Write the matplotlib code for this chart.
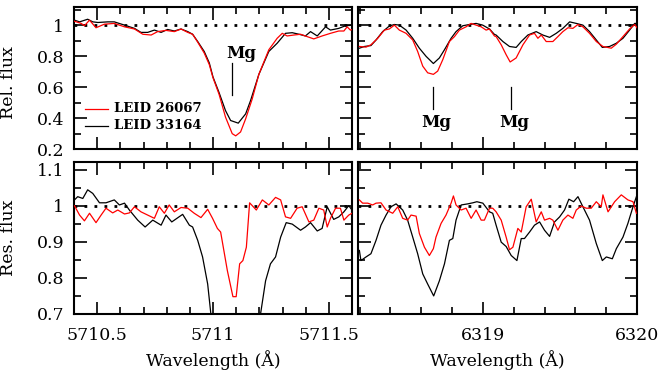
import matplotlib
matplotlib.use("Agg")
import matplotlib.pyplot as plt
from matplotlib.ticker import MultipleLocator, FuncFormatter

# ---------------- data ----------------
# Top-left: relative flux around 5711 A
tl_black_wl = [5710.402, 5710.424, 5710.459, 5710.481, 5710.503, 5710.546, 5710.574, 5710.618,
               5710.661, 5710.689, 5710.718, 5710.747, 5710.776, 5710.804, 5710.833, 5710.862,
               5710.891, 5710.912, 5710.934, 5710.962, 5710.984, 5711.000, 5711.026, 5711.054,
               5711.076, 5711.109, 5711.141, 5711.162, 5711.198, 5711.241, 5711.277, 5711.313,
               5711.342, 5711.371, 5711.399, 5711.421, 5711.450, 5711.486, 5711.507, 5711.543,
               5711.572, 5711.608]
tl_black_fl = [1.032, 1.021, 1.038, 1.021, 1.017, 1.021, 1.021, 1.000,
               0.979, 0.953, 0.953, 0.968, 0.953, 0.972, 0.962, 0.975,
               0.958, 0.941, 0.894, 0.830, 0.756, 0.665, 0.565, 0.448,
               0.384, 0.367, 0.427, 0.512, 0.682, 0.830, 0.883, 0.947,
               0.951, 0.941, 0.930, 0.958, 0.930, 0.989, 0.968, 0.979,
               0.996, 1.000]
tl_red_wl = [5710.402, 5710.431, 5710.445, 5710.467, 5710.495, 5710.531, 5710.574, 5710.618,
             5710.661, 5710.697, 5710.733, 5710.761, 5710.797, 5710.833, 5710.862, 5710.891,
             5710.912, 5710.934, 5710.962, 5710.984, 5711.000, 5711.026, 5711.054, 5711.083,
             5711.098, 5711.119, 5711.141, 5711.169, 5711.198, 5711.241, 5711.277, 5711.299,
             5711.320, 5711.349, 5711.378, 5711.406, 5711.435, 5711.471, 5711.507, 5711.543,
             5711.565, 5711.579, 5711.593, 5711.608]
tl_red_fl = [1.025, 1.011, 0.996, 1.032, 0.983, 1.006, 1.011, 0.989,
             0.975, 0.941, 0.936, 0.958, 0.966, 0.958, 0.975, 0.953,
             0.941, 0.890, 0.820, 0.745, 0.660, 0.554, 0.406, 0.299,
             0.285, 0.310, 0.395, 0.522, 0.682, 0.841, 0.915, 0.947,
             0.930, 0.936, 0.941, 0.926, 0.911, 0.930, 0.947, 0.962,
             0.962, 0.989, 0.968, 0.975]

# Top-right: relative flux around 6319 A
tr_black_wl = [6318.199, 6318.231, 6318.274, 6318.307, 6318.350, 6318.393, 6318.426, 6318.458,
               6318.502, 6318.545, 6318.588, 6318.632, 6318.679, 6318.718, 6318.751, 6318.794,
               6318.826, 6318.870, 6318.913, 6318.956, 6318.999, 6319.043, 6319.075, 6319.086,
               6319.130, 6319.173, 6319.216, 6319.249, 6319.292, 6319.346, 6319.389, 6319.433,
               6319.476, 6319.519, 6319.563, 6319.606, 6319.649, 6319.692, 6319.736, 6319.775,
               6319.822, 6319.866, 6319.909, 6319.952, 6319.985, 6320.006]
tr_black_fl = [0.851, 0.862, 0.868, 0.904, 0.958, 0.994, 1.004, 1.000,
               0.968, 0.915, 0.851, 0.798, 0.752, 0.788, 0.841, 0.915,
               0.958, 0.996, 1.004, 1.011, 1.000, 0.975, 0.940, 0.936,
               0.894, 0.862, 0.856, 0.894, 0.936, 0.958, 0.936, 0.921,
               0.947, 0.979, 1.021, 1.011, 1.000, 0.958, 0.904, 0.856,
               0.862, 0.883, 0.915, 0.968, 1.011, 1.011]
tr_red_wl = [6318.199, 6318.242, 6318.274, 6318.318, 6318.361, 6318.393, 6318.426, 6318.458,
             6318.502, 6318.545, 6318.577, 6318.610, 6318.642, 6318.679, 6318.707, 6318.740,
             6318.783, 6318.816, 6318.848, 6318.891, 6318.924, 6318.956, 6318.989, 6319.021,
             6319.043, 6319.075, 6319.086, 6319.119, 6319.151, 6319.177, 6319.216, 6319.260,
             6319.303, 6319.335, 6319.357, 6319.379, 6319.411, 6319.454, 6319.487, 6319.519,
             6319.552, 6319.584, 6319.617, 6319.649, 6319.692, 6319.736, 6319.779, 6319.833,
             6319.866, 6319.909, 6319.952, 6319.985, 6320.006]
tr_red_fl = [0.862, 0.858, 0.873, 0.915, 0.968, 0.975, 1.000, 0.968,
             0.947, 0.904, 0.830, 0.735, 0.692, 0.682, 0.703, 0.777,
             0.894, 0.926, 0.968, 0.989, 1.011, 1.000, 0.989, 0.968,
             0.975, 0.930, 0.926, 0.873, 0.809, 0.762, 0.788, 0.873,
             0.936, 0.947, 0.915, 0.936, 0.894, 0.894, 0.926, 0.958,
             0.983, 0.979, 1.004, 0.989, 0.947, 0.894, 0.862, 0.851,
             0.877, 0.926, 0.975, 1.004, 0.975]

# Bottom-left: residual flux around 5711 A
bl_black_wl = [5710.402, 5710.416, 5710.438, 5710.459, 5710.481, 5710.510, 5710.538, 5710.574,
               5710.596, 5710.618, 5710.639, 5710.675, 5710.707, 5710.740, 5710.776, 5710.797,
               5710.822, 5710.869, 5710.898, 5710.912, 5710.934, 5710.955, 5710.977, 5710.991,
               5711.030, 5711.080, 5711.120, 5711.170, 5711.205, 5711.227, 5711.248, 5711.270,
               5711.292, 5711.316, 5711.342, 5711.378, 5711.399, 5711.421, 5711.450, 5711.471,
               5711.493, 5711.521, 5711.543, 5711.565, 5711.586, 5711.600]
bl_black_fl = [1.016, 1.025, 1.020, 1.044, 1.034, 1.008, 1.008, 1.016,
               1.002, 1.007, 0.988, 0.960, 0.941, 0.960, 0.946, 0.974,
               0.955, 0.976, 0.946, 0.941, 0.904, 0.858, 0.783, 0.699,
               0.600, 0.540, 0.530, 0.600, 0.699, 0.792, 0.839, 0.858,
               0.913, 0.953, 0.949, 0.932, 0.941, 0.953, 0.930, 0.937,
               0.997, 0.962, 0.969, 0.983, 1.000, 0.988]
bl_red_wl = [5710.402, 5710.424, 5710.445, 5710.467, 5710.495, 5710.517, 5710.538, 5710.567,
             5710.589, 5710.618, 5710.639, 5710.661, 5710.689, 5710.718, 5710.747, 5710.768,
             5710.790, 5710.811, 5710.833, 5710.862, 5710.891, 5710.919, 5710.948, 5710.977,
             5710.998, 5711.019, 5711.033, 5711.062, 5711.086, 5711.100, 5711.115, 5711.129,
             5711.144, 5711.158, 5711.187, 5711.213, 5711.241, 5711.270, 5711.292, 5711.313,
             5711.335, 5711.363, 5711.385, 5711.414, 5711.435, 5711.457, 5711.478, 5711.493,
             5711.507, 5711.529, 5711.550, 5711.565, 5711.586, 5711.600]
bl_red_fl = [1.000, 0.974, 0.958, 0.979, 0.953, 0.974, 0.993, 0.980,
             0.988, 0.977, 0.980, 0.997, 0.983, 0.974, 0.965, 0.997,
             0.979, 1.002, 0.983, 0.995, 0.993, 0.979, 0.967, 0.990,
             0.965, 0.937, 0.927, 0.820, 0.748, 0.748, 0.839, 0.848,
             0.885, 1.008, 0.988, 1.016, 1.002, 1.023, 1.016, 0.969,
             0.965, 0.993, 0.997, 0.955, 0.960, 0.993, 0.988, 0.941,
             0.965, 0.993, 0.993, 0.960, 0.974, 0.979]

# Bottom-right: residual flux around 6319 A
br_black_wl = [6318.199, 6318.209, 6318.242, 6318.274, 6318.307, 6318.339, 6318.372, 6318.404,
               6318.437, 6318.480, 6318.512, 6318.545, 6318.577, 6318.610, 6318.642, 6318.681,
               6318.718, 6318.751, 6318.783, 6318.805, 6318.826, 6318.859, 6318.902, 6318.935,
               6318.961, 6319.000, 6319.043, 6319.064, 6319.086, 6319.119, 6319.151, 6319.184,
               6319.221, 6319.249, 6319.270, 6319.303, 6319.335, 6319.368, 6319.400, 6319.433,
               6319.465, 6319.498, 6319.530, 6319.558, 6319.589, 6319.617, 6319.649, 6319.692,
               6319.736, 6319.775, 6319.801, 6319.840, 6319.866, 6319.909, 6319.941, 6319.974,
               6319.996]
br_black_fl = [0.876, 0.848, 0.858, 0.867, 0.904, 0.946, 0.974, 0.997,
               1.005, 0.988, 0.960, 0.913, 0.867, 0.811, 0.783, 0.750,
               0.792, 0.839, 0.904, 0.909, 0.960, 1.002, 1.005, 1.008,
               1.011, 1.007, 0.983, 0.979, 0.946, 0.899, 0.887, 0.862,
               0.848, 0.909, 0.909, 0.927, 0.946, 0.955, 0.932, 0.915,
               0.955, 0.969, 0.988, 1.018, 1.011, 1.025, 0.997, 0.960,
               0.895, 0.848, 0.858, 0.853, 0.881, 0.913, 0.951, 0.997,
               1.025]
br_red_wl = [6318.199, 6318.220, 6318.253, 6318.285, 6318.307, 6318.339, 6318.372, 6318.415,
             6318.448, 6318.480, 6318.512, 6318.534, 6318.567, 6318.588, 6318.621, 6318.653,
             6318.679, 6318.696, 6318.729, 6318.761, 6318.794, 6318.809, 6318.826, 6318.859,
             6318.891, 6318.924, 6318.956, 6318.989, 6319.010, 6319.043, 6319.064, 6319.086,
             6319.119, 6319.151, 6319.173, 6319.195, 6319.227, 6319.249, 6319.281, 6319.314,
             6319.346, 6319.379, 6319.400, 6319.433, 6319.454, 6319.487, 6319.519, 6319.552,
             6319.584, 6319.606, 6319.638, 6319.671, 6319.703, 6319.736, 6319.768, 6319.779,
             6319.812, 6319.855, 6319.898, 6319.941, 6319.974, 6319.996]
br_red_fl = [1.016, 1.007, 1.007, 1.002, 1.007, 1.008, 0.988, 0.979,
             0.997, 0.965, 0.960, 0.974, 0.971, 0.923, 0.885, 0.862,
             0.881, 0.913, 0.951, 0.974, 1.007, 1.027, 1.002, 0.988,
             0.993, 0.965, 0.988, 0.960, 0.960, 0.993, 0.993, 0.983,
             0.960, 0.913, 0.878, 0.885, 0.937, 0.927, 0.997, 1.018,
             0.955, 0.983, 0.960, 0.965, 0.960, 0.932, 0.960, 0.974,
             0.965, 0.988, 0.999, 0.993, 0.993, 1.011, 0.997, 1.030,
             0.983, 1.011, 1.030, 1.016, 1.011, 0.979]

legend_names = ["LEID 26067", "LEID 33164"]
mg_left = 5711.084
mg_right = [6318.679, 6319.182]

# ---------------- figure ----------------
serif = ["DejaVu Serif"]
plt.rcParams['font.family'] = serif
fig = plt.figure(figsize=(6.64, 3.71), dpi=100)

W, H = 664.0, 371.0
def box(x0, y0, x1, y1):
    return [x0 / W, 1 - y1 / H, (x1 - x0) / W, (y1 - y0) / H]

ax_tl = fig.add_axes(box(74, 7, 352, 149))
ax_tr = fig.add_axes(box(358, 7, 637, 149))
ax_bl = fig.add_axes(box(74, 162, 352, 314))
ax_br = fig.add_axes(box(358, 162, 637, 314))

fmt = FuncFormatter(lambda v, p: "%g" % round(v, 4))

def style(ax, xlim, ylim, xmaj, xmin, ymaj, ymin, xlabels, ylabels):
    ax.set_xlim(*xlim)
    ax.set_ylim(*ylim)
    ax.xaxis.set_major_locator(MultipleLocator(xmaj))
    ax.xaxis.set_minor_locator(MultipleLocator(xmin))
    ax.yaxis.set_major_locator(MultipleLocator(ymaj))
    ax.yaxis.set_minor_locator(MultipleLocator(ymin))
    ax.xaxis.set_major_formatter(fmt)
    ax.yaxis.set_major_formatter(fmt)
    ax.tick_params(which='both', direction='in', top=True, right=True,
                   labelbottom=xlabels, labelleft=ylabels, labelsize=12.5,
                   width=1.2)
    ax.tick_params(axis='x', which='major', pad=9)
    ax.tick_params(axis='y', which='major', pad=7)
    ax.tick_params(which='major', length=9)
    ax.tick_params(which='minor', length=5)
    for s in ax.spines.values():
        s.set_linewidth(1.5)
    ax.axhline(1.0, color='black', lw=2.0, ls=(0, (1, 2.6)), zorder=1)

lw = 0.9
ax_tl.plot(tl_red_wl, tl_red_fl, color='#ff0000', lw=lw, zorder=3)
ax_tl.plot(tl_black_wl, tl_black_fl, color='black', lw=lw, zorder=2)
ax_tr.plot(tr_red_wl, tr_red_fl, color='#ff0000', lw=lw, zorder=3)
ax_tr.plot(tr_black_wl, tr_black_fl, color='black', lw=lw, zorder=2)
ax_bl.plot(bl_black_wl, bl_black_fl, color='black', lw=lw, zorder=2)
ax_bl.plot(bl_red_wl, bl_red_fl, color='#ff0000', lw=lw, zorder=3)
ax_br.plot(br_black_wl, br_black_fl, color='black', lw=lw, zorder=2)
ax_br.plot(br_red_wl, br_red_fl, color='#ff0000', lw=lw, zorder=3)

style(ax_tl, (5710.4, 5711.6), (0.2, 1.117), 0.5, 0.1, 0.2, 0.1, False, True)
style(ax_tr, (6318.19, 6320.0), (0.2, 1.117), 1.0, 0.2, 0.2, 0.1, False, False)
style(ax_bl, (5710.4, 5711.6), (0.7, 1.121), 0.5, 0.1, 0.1, 0.05, True, True)
style(ax_br, (6318.19, 6320.0), (0.7, 1.121), 1.0, 0.2, 0.1, 0.05, True, False)

ax_tl.set_ylabel("Rel. flux", fontsize=12.5)
ax_bl.set_ylabel("Res. flux", fontsize=12.5)
ax_tl.yaxis.set_label_coords(-0.205, 0.47)
ax_bl.yaxis.set_label_coords(-0.205, 0.5)
ax_bl.set_xlabel("Wavelength (Å)", fontsize=12.5, labelpad=5)
ax_br.set_xlabel("Wavelength (Å)", fontsize=12.5, labelpad=5)

# Mg labels
ax_tl.plot([mg_left, mg_left], [0.548, 0.758], color='black', lw=0.9)
ax_tl.text(mg_left + 0.038, 0.79, "Mg", fontsize=12, fontweight='bold',
           ha='center', va='baseline')
for xm in mg_right:
    ax_tr.plot([xm, xm], [0.459, 0.599], color='black', lw=0.9)
    ax_tr.text(xm + 0.02, 0.344, "Mg", fontsize=12, fontweight='bold',
               ha='center', va='baseline')

# legend
ax_tl.plot([5710.447, 5710.546], [0.459, 0.459], color='#ff0000', lw=lw)
ax_tl.plot([5710.447, 5710.546], [0.350, 0.350], color='black', lw=lw)
ax_tl.text(5710.571, 0.459, legend_names[0], fontsize=9.5, fontweight='bold',
           ha='left', va='center')
ax_tl.text(5710.571, 0.350, legend_names[1], fontsize=9.5, fontweight='bold',
           ha='left', va='center')

fig.savefig("out.png", dpi=100)
